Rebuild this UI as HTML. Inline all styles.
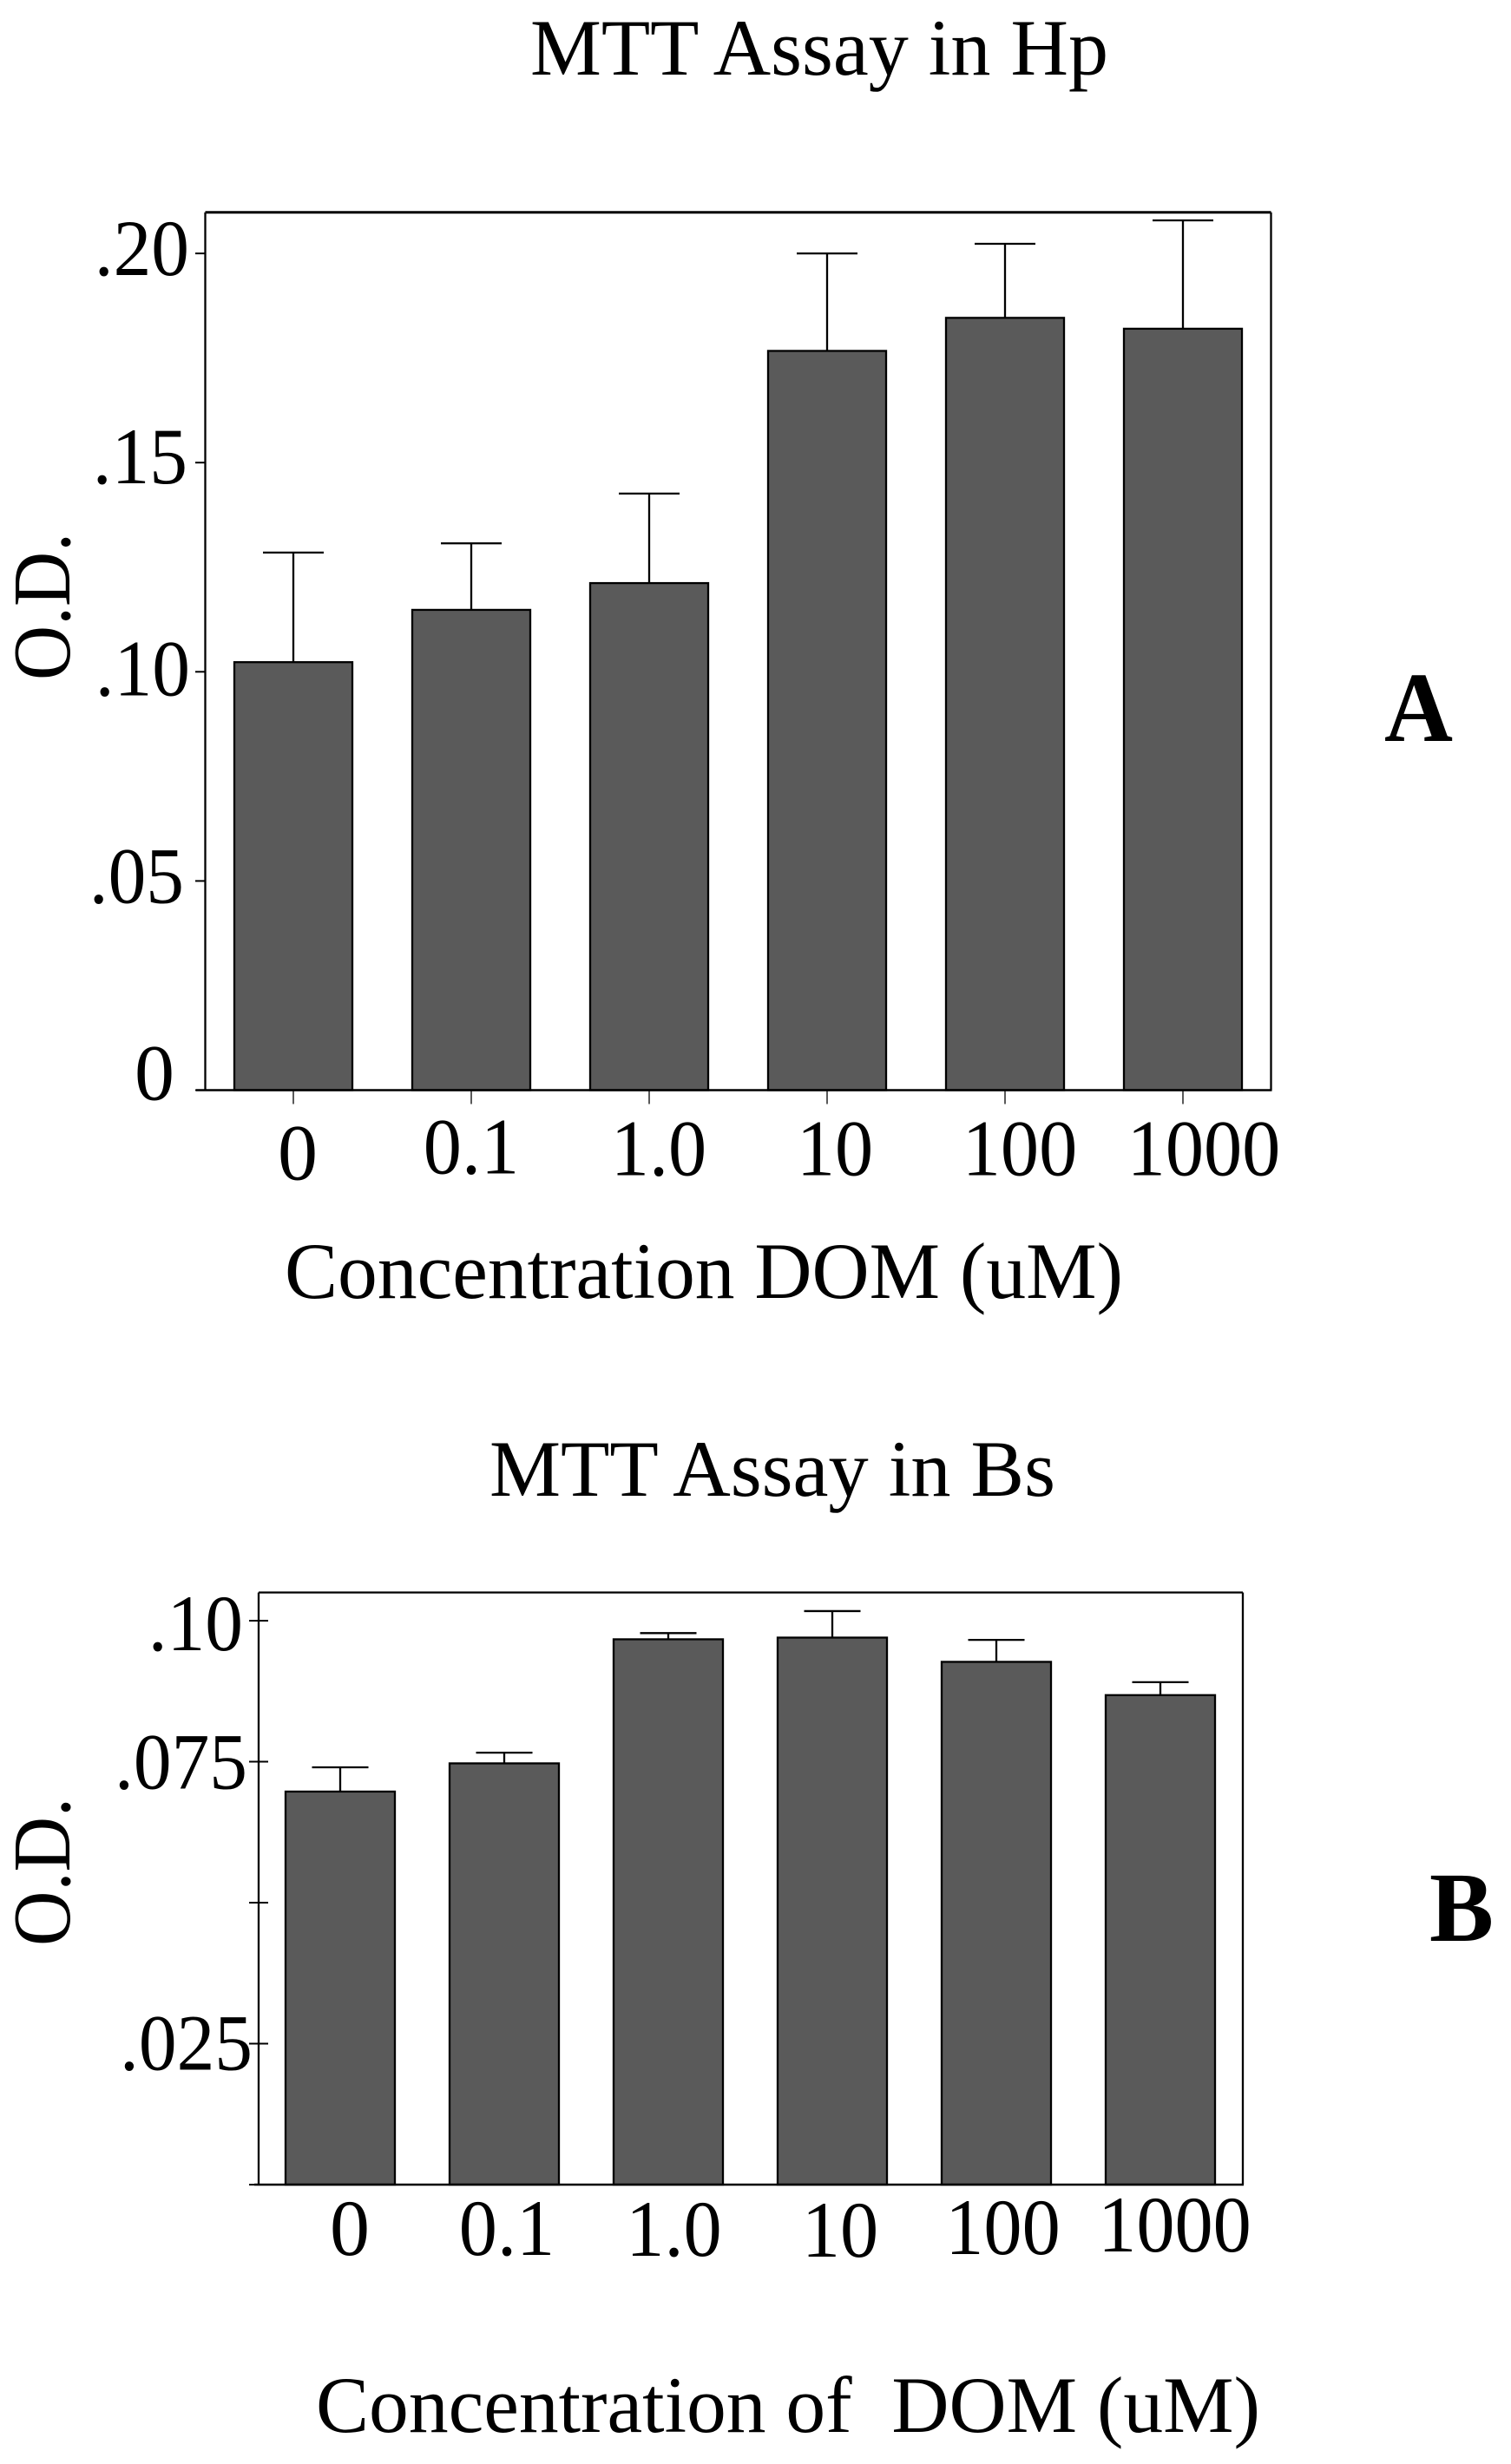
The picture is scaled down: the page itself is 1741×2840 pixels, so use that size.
<!DOCTYPE html>
<html lang="en">
<head>
<meta charset="utf-8">
<title>MTT Assay in Hp and Bs</title>
<style>
  html, body { margin: 0; padding: 0; background: #fff; }
  svg { display: block; }
  text { font-family: "Liberation Serif", "Times New Roman", serif; fill: #000; white-space: pre; }
</style>
</head>
<body>
<svg id="figure" xmlns="http://www.w3.org/2000/svg" width="1741" height="2840" viewBox="0 0 1741 2840">
  <rect x="0" y="0" width="1741" height="2840" fill="#fff"/>

  <g id="panel-a">
    <text x="611" y="86" font-size="92" textLength="666" lengthAdjust="spacingAndGlyphs">MTT Assay in Hp</text>
    <text transform="translate(80 784) rotate(-90)" font-size="94" textLength="170" lengthAdjust="spacingAndGlyphs">O.D.</text>
    <text x="328" y="1496" font-size="92" textLength="966" lengthAdjust="spacingAndGlyphs">Concentration DOM (uM)</text>
    <text x="1595" y="854" font-size="114" font-weight="bold" textLength="79" lengthAdjust="spacingAndGlyphs">A</text>
  </g>

  <g id="panel-b">
    <text x="564" y="1724" font-size="92" textLength="652" lengthAdjust="spacingAndGlyphs">MTT Assay in Bs</text>
    <text transform="translate(80 2243) rotate(-90)" font-size="94" textLength="171" lengthAdjust="spacingAndGlyphs">O.D.</text>
    <text x="364" y="2803" font-size="92" textLength="1088" lengthAdjust="spacingAndGlyphs">Concentration of  DOM (uM)</text>
    <text x="1647" y="2237" font-size="114" font-weight="bold" textLength="74" lengthAdjust="spacingAndGlyphs">B</text>
  </g>
</svg>

<script>
// Shared categories (concentration, uM)
const categories = ['0', '0.1', '1.0', '10', '100', '1000'];

// Panel A values
const barValuesA = [0.1023, 0.1148, 0.1212, 0.1767, 0.1846, 0.1820];
const errorTopsA = [0.1285, 0.1307, 0.1426, 0.2000, 0.2023, 0.2079];
const yTicksA = [0, 0.05, 0.10, 0.15, 0.20];
const yTickLabelsA = ['0', '.05', '.10', '.15', '.20'];

// Panel B values
const barValuesB = [0.0697, 0.0747, 0.0967, 0.0970, 0.0927, 0.0868];
const errorTopsB = [0.0740, 0.0766, 0.0978, 0.1017, 0.0966, 0.0891];
const yTicksB = [0, 0.025, 0.05, 0.075, 0.10];
const yTickLabelsB = ['', '.025', '', '.075', '.10'];

const SVGNS = 'http://www.w3.org/2000/svg';

function mk(parent, tag, attrs, name) {
  const el = document.createElementNS(SVGNS, tag);
  for (const k in attrs) el.setAttribute(k, attrs[k]);
  
  
  parent.appendChild(el);
  return el;
}

function squeeze(el, factor) {
  const natural = el.getComputedTextLength();
  el.setAttribute('textLength', natural * factor);
  el.setAttribute('lengthAdjust', 'spacingAndGlyphs');
}

function drawChart(root, o) {
  const yScale = v => o.baseY - v * o.pxPerUnit;
  const xCenter = i => o.firstCenter + i * o.step;
  const sw = 2.3;

  mk(root, 'line', { x1: o.left, x2: o.right, y1: o.top, y2: o.top, stroke: '#000', 'stroke-width': o.topWidth }, 'plot-frame-top');
  mk(root, 'line', { x1: o.left, x2: o.left, y1: o.top, y2: o.baseY, stroke: '#000', 'stroke-width': sw }, 'plot-frame-left');
  mk(root, 'line', { x1: o.right, x2: o.right, y1: o.top, y2: o.baseY, stroke: '#000', 'stroke-width': sw }, 'plot-frame-right');

  o.yTicks.forEach((t, i) => {
    const y = yScale(t);
    mk(root, 'line', { x1: o.tickFrom, x2: o.tickTo, y1: y, y2: y, stroke: '#000', 'stroke-width': 2 }, 'y-axis-tick');
    if (o.yLabels[i]) {
      const lab = mk(root, 'text', { x: o.yLabelRight[i], y: y + o.yLabelDy[i], 'font-size': 92, 'text-anchor': 'end' }, 'y-axis-tick-label');
      lab.textContent = o.yLabels[i];
      if (o.yLabels[i].length > 1) squeeze(lab, 0.95);
    }
  });

  categories.forEach((c, i) => {
    const cx = xCenter(i);
    const yBar = yScale(o.bars[i]);
    const yErr = yScale(o.errs[i]);
    mk(root, 'line', { x1: cx, x2: cx, y1: yErr, y2: yBar, stroke: '#000', 'stroke-width': sw }, 'error-bar-stem');
    mk(root, 'line', { x1: cx - o.capHalf, x2: cx + o.capHalf, y1: yErr, y2: yErr, stroke: '#000', 'stroke-width': sw }, 'error-bar-cap');
    mk(root, 'rect', { x: cx - o.barHalf, y: yBar, width: o.barHalf * 2, height: o.baseY - yBar, fill: '#5a5a5a', stroke: '#000', 'stroke-width': sw }, 'bar');
    if (o.xTicks) {
      mk(root, 'line', { x1: cx, x2: cx, y1: o.baseY, y2: o.baseY + 16, stroke: '#222', 'stroke-width': 1.5 }, 'x-axis-tick');
    }
    const lab = mk(root, 'text', { x: cx + o.xLabelDx[i], y: o.baseY + o.xLabelDy[i], 'font-size': 92, 'text-anchor': 'middle' }, 'x-axis-tick-label');
    lab.textContent = c;
    if (c.length > 1) squeeze(lab, 0.96);
  });

  mk(root, 'line', { x1: o.axisFrom, x2: o.right + 1, y1: o.baseY, y2: o.baseY, stroke: '#000', 'stroke-width': 2.5 }, 'x-axis-baseline');
}

drawChart(document.getElementById('panel-a'), {
  bars: barValuesA, errs: errorTopsA, yTicks: yTicksA, yLabels: yTickLabelsA,
  left: 236.5, right: 1464.5, top: 244.7, topWidth: 3, baseY: 1256.5, pxPerUnit: 4822,
  firstCenter: 338, step: 205, barHalf: 68, capHalf: 35,
  tickFrom: 225, tickTo: 237, axisFrom: 226, xTicks: true,
  yLabelRight: [201, 212, 219, 216, 218], yLabelDy: [11, 25, 27, 24, 25],
  xLabelDx: [5, 0, 11, 9, 17, 24], xLabelDy: [103, 96, 98, 98, 98, 98]
});

drawChart(document.getElementById('panel-b'), {
  bars: barValuesB, errs: errorTopsB, yTicks: yTicksB, yLabels: yTickLabelsB,
  left: 298, right: 1432, top: 1835.5, topWidth: 2.3, baseY: 2518, pxPerUnit: 6500,
  firstCenter: 392, step: 189, barHalf: 63, capHalf: 32.5,
  tickFrom: 287, tickTo: 309, axisFrom: 293, xTicks: false,
  yLabelRight: [0, 291, 0, 285, 280], yLabelDy: [0, 30, 0, 31, 34],
  xLabelDx: [11, 3, 6.5, 9, 7.5, 16.5], xLabelDy: [81, 81, 82, 83, 80, 77]
});
</script>
</body>
</html>
